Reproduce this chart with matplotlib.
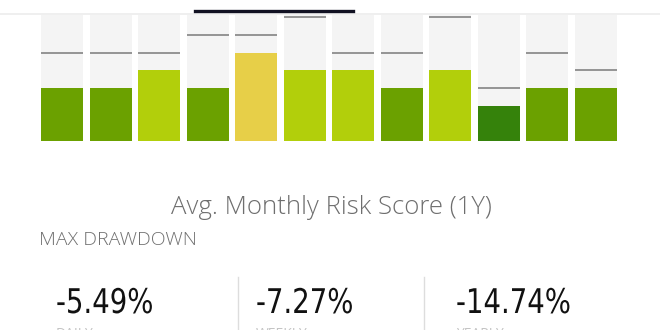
import numpy as np
import matplotlib.pyplot as plt
from matplotlib.lines import Line2D
from matplotlib.textpath import TextPath
from matplotlib.patches import PathPatch
from matplotlib.font_manager import FontProperties
from matplotlib.transforms import Affine2D, IdentityTransform

# monthly risk scores (bars) and the target level lines
months = list(range(12))
risk_scores = [3, 3, 4, 3, 5, 4, 4, 3, 4, 2, 3, 3]
target_scores = [5, 5, 5, 6, 6, 7, 5, 5, 7, 3, 5, 4]
score_max = 7.1

score_colors = {2: '#35820b', 3: '#6ba100', 4: '#b2cf0b', 5: '#e7cf48'}

drawdown_labels = ['DAILY', 'WEEKLY', 'YEARLY']
drawdown_values = ['-5.49%', '-7.27%', '-14.74%']

W, H = 660, 330
fig = plt.figure(figsize=(W / 100, H / 100), dpi=100)
fig.patch.set_facecolor('white')

def px(x, y):
    # pixel position (from top-left) -> figure fraction
    return x / W, 1 - y / H

# tab strip at the top
fig.add_artist(Line2D([0, 1], [1 - 13.5 / H] * 2, color='#ececec', lw=1.2, transform=fig.transFigure))
fig.add_artist(Line2D([195 / W, 353 / W], [1 - 11 / H] * 2, color='#111122', lw=2.4, transform=fig.transFigure))

# bar chart
left = 37.7 / W
width = 582.6 / W
bottom = (H - 141) / H
height = score_max * 17.7 / H
ax = fig.add_axes([left, bottom, width, height])
bw = 0.866
ax.bar(months, [score_max] * 12, width=bw, color='#f4f4f4', zorder=1)
ax.bar(months, risk_scores, width=bw, color=[score_colors[v] for v in risk_scores], zorder=2)
ax.hlines(target_scores, np.array(months) - bw / 2, np.array(months) + bw / 2,
          color='#7a7a7a', lw=1.1, zorder=3)
ax.set_xlim(-0.5, 11.5)
ax.set_ylim(0, score_max)
ax.axis('off')

# texts
x, y = px(331, 208)
fig.text(x, y, 'Avg. Monthly Risk Score (1Y)', ha='center', va='center',
         fontsize=18.5, color='#6e6e6e', family='Open Sans', fontweight='light')
x, y = px(39, 240)
fig.text(x, y, 'MAX DRAWDOWN', ha='left', va='center',
         fontsize=14, color='#707070', family='Open Sans', fontweight='light')

# big numbers in a narrow, tall style (no condensed DIN available -> squeeze a path)
value_x = [56, 256, 456]
num_font = FontProperties(family='DejaVu Sans')
for i, (lab, val) in enumerate(zip(drawdown_labels, drawdown_values)):
    tp = TextPath((0, 0), val, size=34, prop=num_font)
    tr = Affine2D().scale(0.81, 1.0).translate(value_x[i], H - 313)
    fig.add_artist(PathPatch(tr.transform_path(tp), facecolor='#111111',
                             edgecolor='none', transform=IdentityTransform()))
    x, y = px(value_x[i], 327.5)
    fig.text(x, y, lab, ha='left', va='top', fontsize=10, color='#c4c4c4',
             family='Open Sans')

for sx in [238, 424]:
    fig.add_artist(Line2D([sx / W] * 2, [0, 1 - 277 / H], color='#dddddd', lw=1,
                          transform=fig.transFigure))

fig.savefig('out.png', dpi=100, facecolor='white')
